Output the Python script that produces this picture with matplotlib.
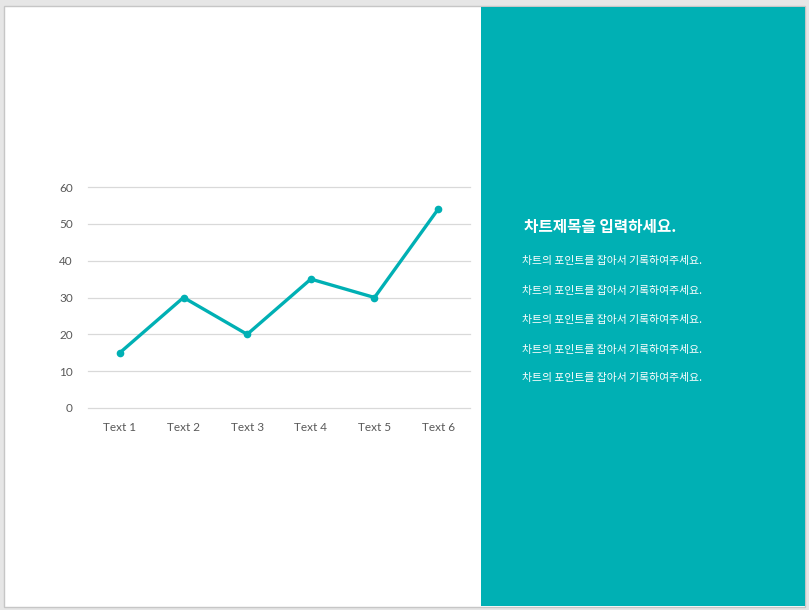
import matplotlib
matplotlib.use('Agg')
from matplotlib import pyplot as plt
from matplotlib.patches import Rectangle

categories = ["Text 1", "Text 2", "Text 3", "Text 4", "Text 5", "Text 6"]
values = [15, 30, 20, 35, 30, 54]
y_ticks = [0, 10, 20, 30, 40, 50, 60]
title_text = "차트제목을 입력하세요."
body_lines = ["차트의 포인트를 잡아서 기록하여주세요."] * 5

teal = "#00B0B4"
W, H = 809, 610

plt.rcParams['font.family'] = ['Lato', 'Noto Sans CJK KR', 'DejaVu Sans']

fig = plt.figure(figsize=(W / 100, H / 100), dpi=100)
fig.patch.set_facecolor("#e6e6e6")

# slide background and right panel
fig.patches.append(Rectangle((4 / W, 1 - 607 / H), 801 / W, 601 / H, transform=fig.transFigure,
                             facecolor="white", edgecolor="#c6c6c6", linewidth=1, zorder=-2))
fig.patches.append(Rectangle((481 / W, 1 - 606 / H), 324 / W, 599 / H, transform=fig.transFigure,
                             facecolor=teal, edgecolor="none", zorder=-1))

ax = fig.add_axes([88 / W, 1 - 408 / H, 382 / W, 221 / H])
ax.set_zorder(2)
ax.set_facecolor("none")
x = list(range(len(categories)))
ax.plot(x, values, color=teal, linewidth=2.4, marker="o", markersize=4.5, clip_on=False, zorder=3)
ax.set_xlim(-0.5, len(categories) - 0.5)
ax.set_ylim(0, 60)
ax.set_yticks(y_ticks)
ax.set_xticks(x)
ax.set_xticklabels(categories)
ax.grid(axis="y", color="#d9d9d9", linewidth=0.9)
for gl in ax.get_ygridlines():
    gl.set_clip_on(False)
ax.set_axisbelow(True)
for s in ax.spines.values():
    s.set_visible(False)
ax.tick_params(length=0, labelsize=8.5, labelcolor="#595959")
ax.tick_params(axis="y", pad=11)
ax.tick_params(axis="x", pad=10)

fig.text(524 / W, 1 - 227 / H, title_text, color="white", fontsize=11.3, fontweight="bold",
         va="center", ha="left", family=['Noto Sans CJK KR', 'DejaVu Sans'])
line_y = [261, 291, 320, 350, 378]
for yy, t in zip(line_y, body_lines):
    fig.text(522 / W, 1 - yy / H, t, color="white", fontsize=7.8, va="center", ha="left",
             family=['Noto Sans CJK KR', 'DejaVu Sans'])

plt.savefig("out.png", dpi=100)
